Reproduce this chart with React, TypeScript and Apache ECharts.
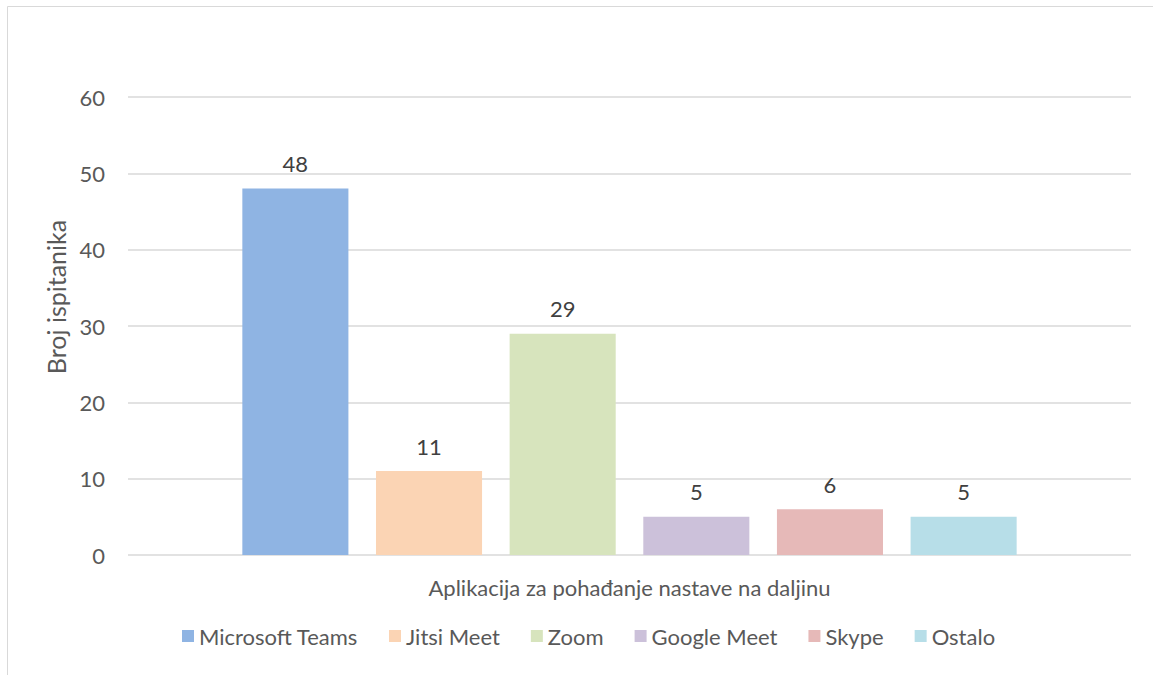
import React, { useEffect, useRef } from "react";
import * as echarts from "echarts";

const categories = ["Aplikacija za pohađanje nastave na daljinu"];
const seriesNames = ["Microsoft Teams", "Jitsi Meet", "Zoom", "Google Meet", "Skype", "Ostalo"];
const seriesValues = [48, 11, 29, 5, 6, 5];
const seriesColors = ["#8FB4E3", "#FBD4B4", "#D7E4BD", "#CCC1DA", "#E6B9B8", "#B7DEE8"];
const yTicks = { min: 0, max: 60, interval: 10 };

const FONT = "Lato";
const FS = 22;

export default function App() {
  const ref = useRef<HTMLDivElement>(null);
  useEffect(() => {
    if (!ref.current) return;
    const chart = echarts.init(ref.current, null, { renderer: "svg" });
    chart.setOption({
      animation: false,
      backgroundColor: "#ffffff",
      textStyle: { fontFamily: FONT },
      graphic: [
        {
          type: "rect",
          shape: { x: 7.5, y: 6.5, width: 1200, height: 700 },
          style: { fill: "none", stroke: "#D9D9D9", lineWidth: 1 },
          silent: true,
        },
      ],
      grid: { left: 128, right: 22, top: 97, bottom: 120, containLabel: false },
      legend: {
        bottom: 23,
        left: 177,
        itemWidth: 12,
        itemHeight: 12,
        itemGap: 31,
        icon: "rect",
        textStyle: { fontFamily: FONT, fontSize: FS, color: "#595959" },
        data: seriesNames,
      },
      xAxis: {
        type: "category",
        data: categories,
        axisLine: { show: false },
        axisTick: { show: false },
        axisLabel: { fontFamily: FONT, fontSize: FS, color: "#595959", margin: 21 },
      },
      yAxis: {
        type: "value",
        min: yTicks.min,
        max: yTicks.max,
        interval: yTicks.interval,
        name: "Broj ispitanika",
        nameLocation: "middle",
        nameGap: 60,
        nameTextStyle: {
          fontFamily: FONT,
          fontSize: 25,
          color: "#595959",
          padding: [0, 0, 0, 58],
        },
        axisLine: { show: false },
        axisTick: { show: false },
        axisLabel: { fontFamily: FONT, fontSize: FS, color: "#595959", margin: 23 },
        splitLine: { lineStyle: { color: "#D9D9D9", width: 1.5 } },
      },
      series: seriesNames.map((name, i) => ({
        name,
        type: "bar",
        data: [seriesValues[i]],
        itemStyle: { color: seriesColors[i] },
        barGap: "26%",
        barCategoryGap: "22.8%",
        label: {
          show: true,
          position: "top",
          distance: 14,
          fontFamily: FONT,
          fontSize: FS,
          color: "#404040",
        },
      })),
    });
    return () => chart.dispose();
  }, []);
  return (
    <div
      ref={ref}
      style={{ position: "fixed", left: 0, top: 0, width: 1153, height: 675 }}
    />
  );
}
